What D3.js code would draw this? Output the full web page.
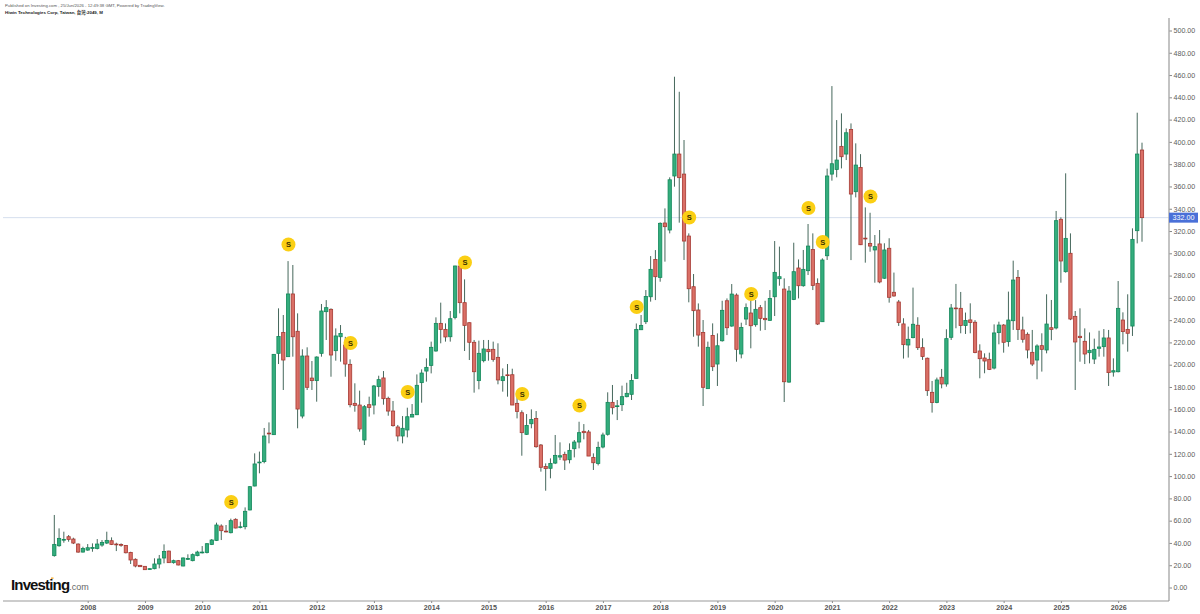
<!DOCTYPE html>
<html>
<head>
<meta charset="utf-8">
<title>Hiwin Technologies Corp monthly candles</title>
<script src="https://cdn.jsdelivr.net/npm/d3@7"></script>
<style>
  html, body { margin: 0; padding: 0; background: #fff; }
  svg { display: block; font-family: "Liberation Sans", Arial, sans-serif; }
</style>
</head>
<body>
<svg id="chart" width="1200" height="614"></svg>
<script>
// Monthly candles, first bar June 2007, last bar June 2026
const firstYear = 2007, firstMonth = 5;
const opens = [
28.6,37.5,42.8,45.6,43.5,39,31.8,33.6,35.1,35.1,38.1,39.9,42,39,38.6,37.8,31.5,25.3,19.9,19,
16.3,16.9,21.1,26.5,32.7,22.3,24.1,19.3,25.6,24.1,28.6,31.2,31.5,38.7,42.3,55.2,50.6,49.2,61.2,54.2,
54.6,69.6,91.1,112.2,113,138.6,137.2,210.2,229,207.2,263.5,230,153.9,207.8,188,185.7,210.2,247.6,249.7,212.6,
225.1,217.7,200.3,165.3,163.8,132.4,164.1,163.8,180.3,188.1,169.8,158.4,144.1,136,141.4,153,155.1,183.9,194.3,199.4,
212.3,237.1,231.7,225.1,242.5,288.6,255.7,237.7,220.1,185.7,203.6,213.8,213.8,206.6,185.7,190.9,191,165.3,156.9,137.5,
147,151.8,127.9,108.7,107,111.7,117.1,119.5,114.7,124.6,130.6,140.2,139.6,116.8,111.4,126.1,137.5,166.2,162.8,164.1,
171.3,173.4,187.7,231.4,238.6,261,294.5,278.4,327.2,320.9,369.4,389.1,371.1,315.5,270,249.1,229,178.5,226.3,200.6,
221.5,257.4,234.7,262.5,209.6,241,246.4,235.9,251.2,241.6,239.8,261,277.2,267.9,184.4,258.6,286.8,270.9,284.4,303.5,
273,238.6,297.8,371.1,375.3,396,389.1,411.2,355.3,377.1,313.6,308.9,303,308.4,277.6,304.5,265,256.3,236.6,217.7,
224.3,235.4,215.3,205.8,175.2,166,188.7,182.7,224.6,250.9,250.6,235.1,240.2,238.1,212.3,206,204.8,197,228.8,235.6,
220.7,239.5,278.4,231.2,227.3,211.1,204.2,217.1,213.2,233.2,233,330.5,283.5,300,243.4,225.5,221,210.8,205.1,214.7,
216.2,224,193.4,193.7,240.1,231.7,234.7,320.3,392.7
];
const closes = [
38.7,44.1,43.2,43.2,39.9,31.8,35.1,35.7,36,39,40.5,42.3,38.7,38.7,38.4,31.2,24.7,19.3,18.7,16,
16.9,21.1,25.6,32.4,22.3,24.1,20.2,26.5,26,29.5,31.8,31.8,39.3,42.6,56.1,51,50.2,60,53.4,54.5,
68.4,90.5,110.9,112.6,136,138.2,209.3,225.4,204.2,263.5,225.1,160.2,207.8,179.7,185.7,206.9,248.2,251.2,208.7,225.8,
228.1,200.6,164.1,163.5,142.3,162.3,161.7,180.9,186.6,169.5,158.4,145.3,136,142.9,153.3,155.4,181.5,192.5,197.6,215.6,
237.1,231.7,224.9,241.3,288.6,255.7,235.3,220.1,193.7,210.2,214.1,211.7,204.8,186.3,189.2,190.6,163.8,158.1,139,145.5,
150.9,126.4,107.9,106.7,111.4,118.6,118.3,114.4,123.1,130.6,139,139,118,112,125.8,136.9,166.2,161.4,163.1,171.3,
174.3,185.9,231.7,235.3,261.3,285.6,279,326.9,323.9,366,389.1,367.9,311,268.2,248.5,226.6,179.7,215.6,198.2,217,
248.8,233.2,263.4,213.8,233.5,251.2,235,249.7,241.6,240.4,259.5,282.9,279,184.7,266.1,283.5,270.9,285.6,306.5,271.2,
236.5,294,369.4,380.4,383.7,386.7,408.2,353.2,379.2,307.7,313.2,306.5,306,274.3,303,260.5,261.7,237.8,218,222.8,
236.3,215.3,207.3,176.7,166,186.3,182.7,223.4,250.9,250.3,235.1,239.6,237.8,210.9,205.4,203.3,195.8,228.5,235.6,220.1,
240.1,276,231.7,222.8,213.2,200.6,216.8,213.8,236.5,231.7,329.3,293.1,313.4,241,220.4,224.3,209.6,212.9,213.8,215.9,
224,192.9,194.6,250.6,229.7,228.2,312.5,389.1,332
];
const highs = [
65.1,53.1,50.1,47.1,44.7,39.6,36.6,39,39.6,43.5,42.6,50.1,45,40.2,39.6,38.1,32.1,26.2,20.2,19.3,
17.2,26.2,29.2,38.7,33,25,24.7,27,29.8,30.6,33,37.2,39.9,43.5,58.2,56.7,56.1,61.8,62.1,59.1,
71.9,91,120.4,122,143.2,148.2,209.6,250.6,244.6,293,289.5,246.1,213.8,215.6,203.3,207.5,254.5,258,250.6,232.6,
235.6,225,204.8,183.3,176.7,163.8,171.3,181.8,190.1,194.3,171.3,167.4,145.9,153.9,161.4,164.7,191.3,195.8,205.7,220.7,
242.5,255.7,237.1,248.2,288.9,290,276.6,238,222.2,221.6,222.2,222.2,220.7,219.2,196.7,200.6,196.4,171,159,155.7,
159.9,158.4,128.8,111.4,115.9,136.9,130.3,121.9,129.4,132.4,148.8,146.7,141.4,120.4,130.9,139,175.2,181.8,168.3,181.2,
183.8,191.6,237,244.6,267,297.5,302.9,327.8,340.3,368.2,458.5,445,401.7,317.9,281.4,255,240.1,220.7,237.1,228.1,
257.4,259.5,272.4,264,237.7,255,265,258,253.6,257.4,267,311,306,277.5,270.6,309.5,294.5,303,326.3,317.9,
277.5,295.5,376,450.1,419.6,425.6,412.1,416.6,398.7,389,341.2,336.4,316.4,320.9,309,313.5,282.7,258.1,241.7,234.2,
269.2,242.6,223.7,206.4,185.4,188.4,196.2,231.8,254.5,272.5,265.3,246.8,255.1,240,218.3,210.2,210.8,236.2,238.6,236.5,
265.6,293.4,285,243.1,229,231.2,218.3,228.2,263.2,258.1,338,332.3,371.8,317.9,248.2,250.6,232.6,229,223.4,230.5,
232,231.2,205.7,275.1,247,263.2,322.4,426.2,399.3
];
const lows = [
27.7,36.6,40.2,41.1,39,31.2,31.5,33,32.1,34.2,36.6,39,38.1,32.7,36.6,30.6,21.1,18.1,18.4,15.7,
16,16.3,17.2,21.7,22,21.4,19.9,19,24.7,23.5,28,30.6,30.6,38.1,41.7,42.6,49.5,48.6,53.1,53.1,
52.2,69.3,90.8,102.5,111.5,129.4,137,200.6,177.3,207,207.2,142.9,151.8,177.3,177.3,166.8,207.2,222.2,189.2,203.6,
202.7,189.2,161.7,157.8,139.9,127.9,153.4,155.4,171.3,164.1,154.2,144.4,131.2,129.4,134.8,153,154.8,165.9,184.8,192.2,
211.7,219.2,220.7,220.7,240.7,246.1,212.3,204.2,174.9,177.9,202.1,203.6,202.7,182.4,175.8,171.3,163.8,151.8,118.3,136.9,
142.9,125.5,104,86.9,98,110.8,114.4,105.5,111.4,116.8,124.9,133,118,105.5,109.6,124.9,136.3,155.4,150.3,158.4,
170.7,168.3,187.7,231.1,236.5,256.6,258,274.5,292.5,317.9,359.8,327.5,294,256,225.1,216.2,162.9,178.5,194.3,180.9,
220.7,226.6,234.1,202.7,205.7,235.6,214.7,234.1,230.5,231.1,239.5,243.7,270.9,166.5,183.8,258,259.5,270,280.5,267,
235.6,238.6,294,365.2,368.2,376.2,383.7,293.9,350.2,307.4,291.6,301.4,273.6,273.1,277,255.7,261.1,234.8,205.5,206.4,
223.7,213.2,204.3,172,157,165.4,178.8,180.3,222.2,232.7,228.2,227.6,228.2,210.3,187.8,192.3,195.2,195.8,218.3,210.8,
216.2,231.2,222.2,219.8,205.7,198.8,186.9,193.8,210.2,222,231.7,273.6,282.6,240,177.3,202.7,200.6,201.2,200.6,207.2,
207.2,180.9,189.3,193.1,218.3,211.7,225.8,308.9,310.4
];
// Dividend markers: bar number and price level of each badge
const dividendBars = [37,49,62,74,86,98,110,122,133,146,158,161,171];
const dividendLevels = [76.8,307.9,219.5,175.5,291.7,173.7,163.4,251.8,332.1,263.5,340.7,310.1,351];
const lastPrice = 332;
const priceTicks = d3.range(0, 501, 20);
const yearTicks = d3.range(2008, 2027);

const publishedLine = "Published on Investing.com , 25/Jun/2026 - 12:49:38 GMT, Powered by TradingView.";
const titleLine = "Hiwin Technologies Corp, Taiwan, 台灣:2049, M";

const svg = d3.select("#chart");
const plotRight = 1169, plotBottom = 601, plotTop = 18, plotLeft = 3;

const x = d3.scaleLinear().domain([0, opens.length - 1]).range([54.3, 1142]);
const y = d3.scaleLinear().domain([0, 500]).range([587.5, 30.5]);
const barOfYear = yr => (yr - firstYear) * 12 - firstMonth;

const UP = { fill: "#34ad7d", edge: "#12885a" };
const DOWN = { fill: "#da6f66", edge: "#a63a33" };
const WICK = "#46685c";

// Last price guide line
svg.append("line")
  .attr("x1", plotLeft).attr("x2", plotRight)
  .attr("y1", y(lastPrice)).attr("y2", y(lastPrice))
  .attr("stroke", "#d6dfee").attr("stroke-width", 1);

// Candles; wick and body stay on fractional pixels so the month spacing is exact
const candles = svg.append("g").selectAll("g")
  .data(d3.range(opens.length))
  .join("g");

candles.append("line")
  .attr("x1", i => x(i)).attr("x2", i => x(i))
  .attr("y1", i => y(highs[i])).attr("y2", i => y(lows[i]))
  .attr("stroke", WICK).attr("stroke-width", 1);

candles.append("rect")
  .attr("x", i => x(i) - 1.65)
  .attr("width", 3.3)
  .attr("y", i => y(Math.max(opens[i], closes[i])))
  .attr("height", i => Math.max(0.8, Math.abs(y(opens[i]) - y(closes[i]))))
  .attr("fill", i => closes[i] >= opens[i] ? UP.fill : DOWN.fill)
  .attr("stroke", i => closes[i] >= opens[i] ? UP.edge : DOWN.edge)
  .attr("stroke-width", 0.8);

// Dividend badges
const badges = svg.append("g").selectAll("g")
  .data(dividendBars.map((b, k) => ({ bar: b, level: dividendLevels[k] })))
  .join("g")
  .attr("transform", d => `translate(${x(d.bar) + 0.4},${y(d.level)})`);
badges.append("circle").attr("r", 7).attr("fill", "#fbcf14");
badges.append("text")
  .attr("text-anchor", "middle").attr("dy", "0.36em")
  .attr("font-size", 7.5).attr("font-weight", "bold").attr("fill", "#3a3000")
  .text("S");

// Price axis
const yAxis = d3.axisRight(y).tickValues(priceTicks).tickFormat(d3.format(".2f"))
  .tickSize(3).tickPadding(1.5);
const yG = svg.append("g").attr("transform", `translate(${plotRight},0)`).call(yAxis);
yG.select(".domain").remove();
yG.selectAll("line").attr("stroke", "#888");
yG.selectAll("text").attr("font-size", 7.1).attr("fill", "#5c5c5c").attr("font-family", "Liberation Sans");

svg.append("line").attr("x1", plotRight).attr("x2", plotRight)
  .attr("y1", plotTop).attr("y2", plotBottom)
  .attr("stroke", "#aaa").attr("stroke-width", 1.4);

// Time axis
const xAxis = d3.axisBottom(x).tickValues(yearTicks.map(barOfYear))
  .tickFormat(b => firstYear + Math.ceil((b + firstMonth) / 12))
  .tickSize(2).tickPadding(1.5);
const xG = svg.append("g").attr("transform", `translate(0,${plotBottom})`).call(xAxis);
xG.select(".domain").remove();
xG.selectAll("line").attr("stroke", "#888");
xG.selectAll("text").attr("font-size", 7.2).attr("font-weight", "bold").attr("fill", "#555").attr("font-family", "Liberation Sans");

svg.append("line").attr("x1", plotLeft).attr("x2", plotRight)
  .attr("y1", plotBottom).attr("y2", plotBottom)
  .attr("stroke", "#999").attr("stroke-width", 1);

// Last price tag
svg.append("rect").attr("x", plotRight).attr("y", y(lastPrice) - 5)
  .attr("width", 29).attr("height", 10).attr("fill", "#4a70d8");
svg.append("text").attr("x", plotRight + 14.5).attr("y", y(lastPrice))
  .attr("dy", "0.36em").attr("text-anchor", "middle")
  .attr("font-size", 7.2).attr("fill", "#fff").text(d3.format(".2f")(lastPrice));

// Header lines
svg.append("text").attr("x", 5).attr("y", 7).attr("font-size", 4.25).attr("fill", "#555").text(publishedLine);
svg.append("text").attr("x", 5).attr("y", 14).attr("font-size", 4.4).attr("font-weight", "bold").attr("fill", "#222")
  .attr("font-family", "'Liberation Sans','Noto Sans CJK TC',sans-serif").text(titleLine);

// Investing.com wordmark
const logo = svg.append("text").attr("x", 11).attr("y", 590);
logo.append("tspan").attr("font-size", 15).attr("font-weight", "bold").attr("fill", "#111")
  .attr("letter-spacing", -0.85).text("Investing");
logo.append("tspan").attr("font-size", 9).attr("fill", "#666").text(".com");
svg.append("rect").attr("x", 51).attr("y", 577.5).attr("width", 2.5).attr("height", 1.3)
  .attr("fill", "#f5a623");
</script>
</body>
</html>
